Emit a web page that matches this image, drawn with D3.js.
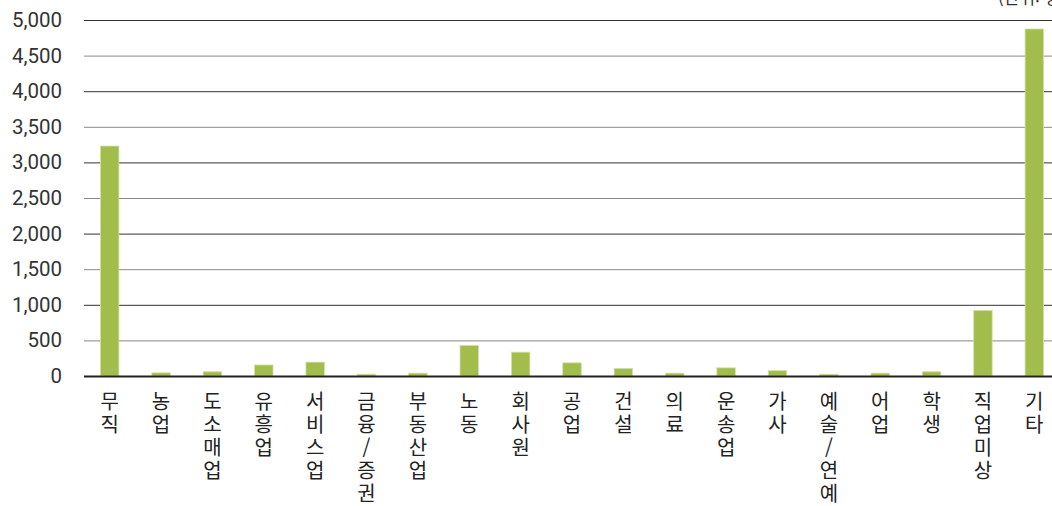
<!DOCTYPE html>
<html lang="ko">
<head>
<meta charset="utf-8"/>
<script src="https://d3js.org/d3.v7.min.js"></script>
<style>
  body { margin: 0; background: #fff; }
  .tick text { font-family: Roboto, "Noto Sans", sans-serif; }
</style>
</head>
<body>
<div id="chart"></div>
<script>
  // 직업별 인원 (단위: 명)
  var categories = ["무직", "농업", "도소매업", "유흥업", "서비스업", "금융/증권", "부동산업", "노동", "회사원",
                    "공업", "건설", "의료", "운송업", "가사", "예술/연예", "어업", "학생", "직업미상", "기타"];
  var values = [3230, 45, 60, 155, 195, 25, 40, 430, 335, 185, 105, 40, 115, 75, 25, 40, 60, 922, 4874];
  var yTicks = [0, 500, 1000, 1500, 2000, 2500, 3000, 3500, 4000, 4500, 5000];

  var width = 1052, height = 506;
  var margin = {top: 20, right: -8, bottom: 130, left: 84};
  var innerW = width - margin.left - margin.right,
      innerH = height - margin.top - margin.bottom;

  var svg = d3.select("#chart").append("svg")
      .attr("width", width)
      .attr("height", height);

  var g = svg.append("g")
      .attr("transform", "translate(" + margin.left + "," + margin.top + ")");

  var x = d3.scaleBand()
      .domain(categories)
      .range([0, innerW])
      .paddingInner(0.64)
      .paddingOuter(0.32);

  var y = d3.scaleLinear()
      .domain([0, 5000])
      .range([innerH, 0]);

  // gridlines: thousands dark, half-thousands grey
  g.append("g")
    .selectAll("line")
    .data(yTicks.slice(1))
    .enter().append("line")
      .attr("x1", 0)
      .attr("x2", width - margin.left)
      .attr("y1", function(d) { return y(d) + 0.5; })
      .attr("y2", function(d) { return y(d) + 0.5; })
      .attr("stroke", function(d) { return d % 1000 === 0 ? "#333" : "#8a8a8a"; })
      .attr("stroke-width", 1);

  var yAxis = g.append("g")
      .call(d3.axisLeft(y).tickValues(yTicks).tickSize(0).tickPadding(22).tickFormat(d3.format(",")));
  yAxis.select(".domain").remove();
  yAxis.selectAll("text")
      .attr("font-size", 20.5)
      .attr("fill", "#333");

  g.selectAll(".bar")
    .data(values)
    .enter().append("rect")
      .attr("class", "bar")
      .attr("x", function(d, i) { return x(categories[i]); })
      .attr("y", function(d) { return y(d); })
      .attr("width", x.bandwidth())
      .attr("height", function(d) { return innerH - y(d); })
      .attr("fill", "#a2bd4c")
      .attr("stroke", "#d4e2a6")
      .attr("stroke-width", 0.8);

  // baseline
  g.append("line")
      .attr("x1", 0)
      .attr("x2", width - margin.left)
      .attr("y1", innerH + 0.5)
      .attr("y2", innerH + 0.5)
      .attr("stroke", "#222")
      .attr("stroke-width", 2.2);

  // vertical stacked labels
  var labels = g.append("g")
      .attr("font-family", "'Noto Sans CJK KR', sans-serif")
      .attr("font-size", 20)
      .attr("fill", "#222")
      .attr("text-anchor", "middle")
    .selectAll("text")
    .data(categories)
    .enter().append("text")
      .attr("transform", function(d) { return "translate(" + (x(d) + x.bandwidth() / 2) + "," + (innerH + 33) + ")"; });

  labels.selectAll("tspan")
    .data(function(d) { return d.split(""); })
    .enter().append("tspan")
      .attr("x", 0)
      .attr("dy", function(d, i) { return i === 0 ? 0 : 23; })
      .text(function(d) { return d; });

  // unit label, cut at top right as in the source
  svg.append("text")
      .attr("x", 1066)
      .attr("y", 4)
      .attr("text-anchor", "end")
      .attr("font-family", "'Noto Sans CJK KR', sans-serif")
      .attr("font-size", 17)
      .attr("fill", "#333")
      .text("(단위: 명)");
</script>
</body>
</html>
